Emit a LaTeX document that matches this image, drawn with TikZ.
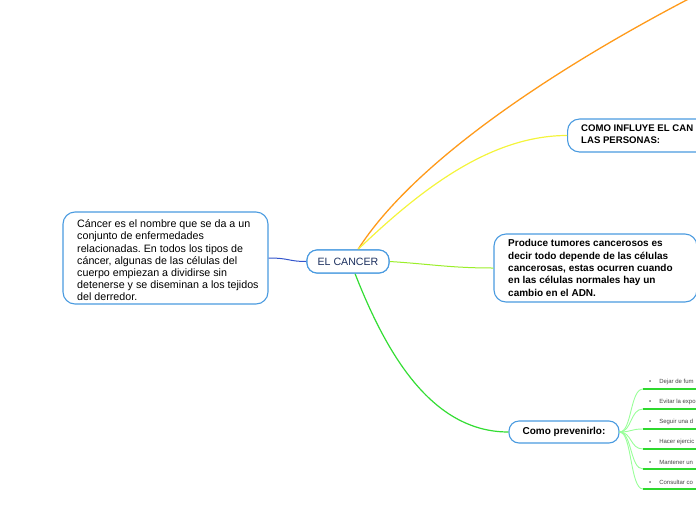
\documentclass[tikz,border=0pt]{standalone}
\usepackage{fontspec}
\setmainfont{Liberation Sans}
\frenchspacing
\definecolor{bordercol}{HTML}{4A9BE0}
\definecolor{navy}{HTML}{1B2F5E}
\definecolor{orangeln}{HTML}{FF9A1A}
\definecolor{yellowln}{HTML}{F4F43C}
\definecolor{limeln}{HTML}{9BEE2A}
\definecolor{greenln}{HTML}{33DD33}
\definecolor{branchln}{HTML}{99FF99}
\definecolor{underln}{HTML}{2ED82E}
\definecolor{blueln}{HTML}{3355CC}
\definecolor{itemtxt}{HTML}{444444}
\begin{document}
\begin{tikzpicture}[x=1pt,y=-1pt,
  box/.style={draw=bordercol, line width=1.1pt, fill=white, rounded corners=12pt, inner sep=0pt},
  pill/.style={draw=bordercol, line width=1.1pt, fill=white, rounded corners=10pt, inner sep=0pt},
  bodytxt/.style={font=\fontsize{10.7}{12.2}\selectfont, align=left, inner sep=0pt, anchor=west},
  boldtxt/.style={font=\bfseries\fontsize{10}{12.3}\selectfont, align=left, inner sep=0pt, anchor=west},
  itemtxt/.style={font=\fontsize{6}{7}\selectfont, text=itemtxt, inner sep=0pt, anchor=west},
  conn/.style={line width=1pt},
  underline/.style={draw=underln, line width=1.4pt},
  branch/.style={draw=branchln, line width=0.9pt}]
\useasboundingbox (0,0) rectangle (696,520);
\clip (0,0) rectangle (696,520);

% boxes
\node[box, minimum width=205pt, minimum height=92pt] (def) at (165.5,258) {};
\node[pill, minimum width=82pt, minimum height=23pt] (cancer) at (348,261.5) {};
\node[box, minimum width=200pt, minimum height=33pt, anchor=west] (influye) at (567,135.5) {};
\node[box, minimum width=203pt, minimum height=68pt] (produce) at (595.5,268) {};
\node[pill, minimum width=110pt, minimum height=22pt] (prevenir) at (564,432) {};

% connectors
\draw[conn, draw=blueln] (def.east) .. controls (290,258) and (288,261.5) .. (cancer.west);
\coordinate (offtop) at (702,-8);
\draw[conn, draw=orangeln, line width=1.3pt] ([xshift=10pt]cancer.north) .. controls (415,160) and (560,65) .. (offtop);
\draw[conn, draw=yellowln, line width=1.2pt] ([xshift=10pt]cancer.north) .. controls (420,190) and (490,135.5) .. (influye.west);
\draw[conn, draw=limeln] (cancer.east) .. controls (430,264) and (450,268) .. (produce.west);
\draw[conn, draw=greenln, line width=1.2pt] ([xshift=7pt]cancer.south) .. controls (385,350) and (430,432) .. (prevenir.west);

% redraw central box on top of connector ends
\node[pill, minimum width=82pt, minimum height=23pt] (cancertop) at (cancer) {};

% texts
\node[bodytxt] (deft) at (77,260.5) {Cáncer es el nombre que se da a un\\conjunto de enfermedades\\relacionadas. En todos los tipos de\\cáncer, algunas de las células del\\cuerpo empiezan a dividirse sin\\detenerse y se diseminan a los tejidos\\del derredor.};
\node[font=\fontsize{10.6}{12}\selectfont, text=navy, inner sep=0pt] (cancert) at (cancer) {EL CANCER};
\node[boldtxt, font=\bfseries\fontsize{9.6}{12.3}\selectfont] (influyet) at (581,134.5) {COMO INFLUYE EL CAN\\LAS PERSONAS:};
\node[boldtxt] (producet) at (508,268) {Produce tumores cancerosos es\\decir todo depende de las células\\cancerosas, estas ocurren cuando\\en las células normales hay un\\cambio en el ADN.};
\node[font=\bfseries\fontsize{10}{12}\selectfont, inner sep=0pt] (prevenirt) at (prevenir) {Como prevenirlo:};

% list branches
\foreach \y/\name/\txt in {389/u1/Dejar de fum, 409/u2/Evitar la expo, 429/u3/Seguir una d, 449/u4/Hacer ejercic, 469/u5/Mantener un, 489/u6/Consultar co}{
  \coordinate (\name) at (643,\y);
  \coordinate (\name e) at (700,\y);
  \draw[branch] (prevenir.east) .. controls (632,432) and (630,\y) .. (\name);
  \draw[underline] (\name) -- (\name e);
  \node[itemtxt] (\name t) at (649,\y-7) {\textbullet\hspace{8pt}\txt};
}
\end{tikzpicture}
\end{document}
